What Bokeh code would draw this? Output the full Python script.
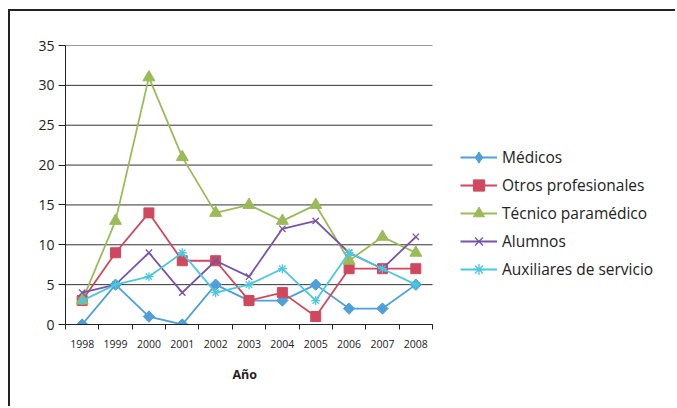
import math
from bokeh.plotting import figure
from bokeh.models import Legend, LegendItem, FixedTicker, Range1d, Title
from bokeh.embed import file_html
from bokeh.resources import INLINE

years = [1998, 1999, 2000, 2001, 2002, 2003, 2004, 2005, 2006, 2007, 2008]
year_labels = [str(y) for y in years]
medicos = [0, 5, 1, 0, 5, 3, 3, 5, 2, 2, 5]
otros_prof = [3, 9, 14, 8, 8, 3, 4, 1, 7, 7, 7]
tecnico = [3, 13, 31, 21, 14, 15, 13, 15, 8, 11, 9]
alumnos = [4, 5, 9, 4, 8, 6, 12, 13, 9, 7, 11]
auxiliares = [3, 5, 6, 9, 4, 5, 7, 3, 9, 7, 5]
y_ticks = [0, 5, 10, 15, 20, 25, 30, 35]

series = [
    ("Médicos", medicos, "#4F9FD8", "square_rot", 8),
    ("Otros profesionales", otros_prof, "#D0485E", "square", 10),
    ("Técnico paramédico", tecnico, "#9BBB59", "triangle", 12),
    ("Alumnos", alumnos, "#7953A9", "x", 9),
    ("Auxiliares de servicio", auxiliares, "#4BC8E0", "asterisk", 9),
]

W, H = 667, 397
LEFT, TOP, BOTTOM = 55, 34, 84
plot_w = 367  # width of the data area in px
frame_w = W - LEFT
x0 = years[0] - 0.5
x1 = years[-1] + 0.5
x_end = x0 + (x1 - x0) * frame_w / plot_w

p = figure(width=W, height=H, output_backend="svg", toolbar_location=None,
           x_range=Range1d(x0, x_end), y_range=Range1d(0, 35),
           min_border_left=LEFT, min_border_right=0, min_border_top=TOP,
           min_border_bottom=BOTTOM)
p.styles = {"margin-left": "8px", "margin-top": "9px",
            "border-left": "2px solid #222", "border-top": "2px solid #222"}
p.outline_line_color = None
p.background_fill_color = "white"
p.border_fill_color = "white"

p.xgrid.visible = False
p.ygrid.visible = False
# horizontal gridlines limited to the data area
p.segment(x0=[x0] * len(y_ticks), x1=[x1] * len(y_ticks), y0=y_ticks, y1=y_ticks,
          line_color="#333", line_width=1)

p.yaxis.ticker = FixedTicker(ticks=y_ticks)
p.yaxis.major_tick_out = 7
p.yaxis.major_tick_in = 0
p.yaxis.minor_tick_line_color = None
p.yaxis.axis_line_color = "#222"
p.yaxis.major_tick_line_color = "#222"
p.yaxis.major_label_text_font = "Open Sans"
p.yaxis.major_label_text_font_size = "14px"
p.yaxis.major_label_text_color = "#222"
p.yaxis.major_label_standoff = 4

p.xaxis.bounds = (x0, x1)
p.xaxis.ticker = FixedTicker(ticks=years, minor_ticks=[y - 0.5 for y in years] + [x1])
p.xaxis.major_label_overrides = {y: s for y, s in zip(years, year_labels)}
p.xaxis.major_tick_line_color = None
p.xaxis.major_tick_out = 0
p.xaxis.major_tick_in = 0
p.xaxis.minor_tick_out = 5
p.xaxis.minor_tick_in = 0
p.xaxis.minor_tick_line_color = "#222"
p.xaxis.axis_line_color = "#222"
p.xaxis.major_label_text_font = "Open Sans"
p.xaxis.major_label_text_font_size = "10.5px"
p.xaxis.major_label_text_color = "#222"
p.xaxis.major_label_standoff = 10
p.xaxis.axis_label = None

# "Año" centred under the data area (not under the wider frame)
x_title = Title(text="Año", align="left", offset=167, standoff=26,
                text_font="Open Sans", text_font_size="12.5px",
                text_font_style="bold", text_color="#222")
p.add_layout(x_title, "below")

items = []
for name, vals, color, marker, size in series:
    ln = p.line(years, vals, line_color=color, line_width=1.8)
    if marker in ("x", "asterisk"):
        sc = p.scatter(years, vals, marker=marker, size=size, line_color=color,
                       line_width=1.3, fill_color=None)
        rs = [ln, sc]
    elif marker == "square_rot":
        sc = p.scatter(years, vals, marker="square", angle=math.pi / 4, size=size,
                       line_color=color, fill_color=color, line_width=1)
        # legend-only diamond, hidden in the plot
        lg = p.scatter(years, vals, marker="diamond", size=14,
                       line_color=color, fill_color=color, line_width=1,
                       visible=False)
        rs = [ln, lg]
    else:
        sc = p.scatter(years, vals, marker=marker, size=size, line_color=color,
                       fill_color=color, line_width=1)
        rs = [ln, sc]
    items.append(LegendItem(label=name, renderers=rs))

legend = Legend(items=items, location=(395, 41))
legend.glyph_width = 37
legend.glyph_height = 28
legend.label_height = 28
legend.label_standoff = 5
legend.spacing = 0
legend.padding = 0
legend.margin = 0
legend.border_line_color = None
legend.background_fill_alpha = 0
legend.inactive_fill_alpha = 0
legend.label_text_font = "Open Sans"
legend.label_text_font_size = "15.5px"
legend.label_text_color = "#222"
p.add_layout(legend, "center")

open("out.html", "w").write(file_html(p, INLINE))
